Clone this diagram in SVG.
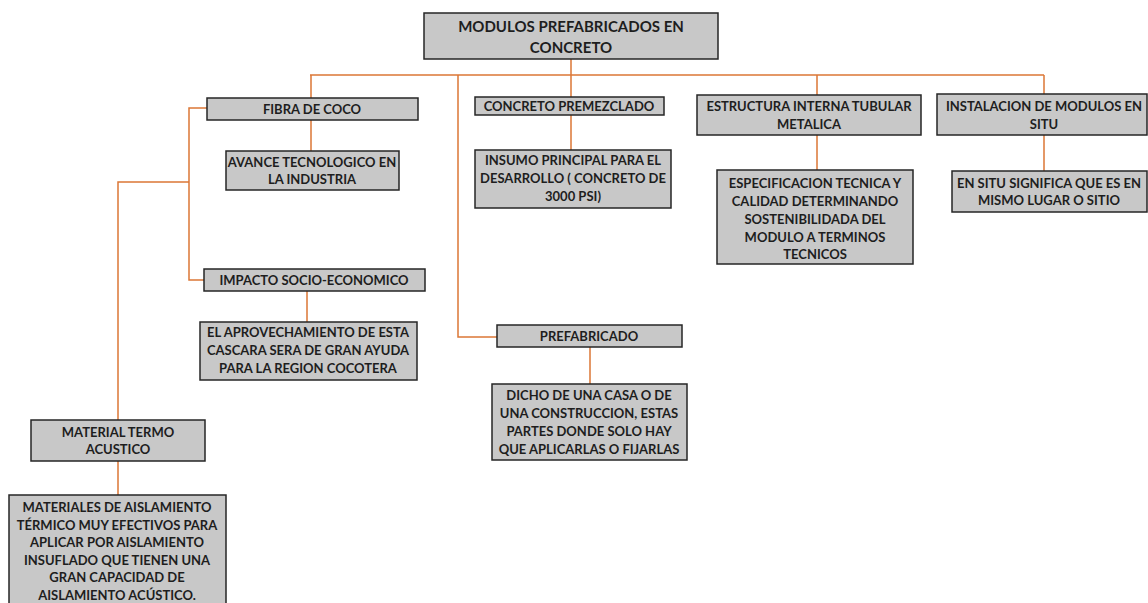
<svg xmlns="http://www.w3.org/2000/svg" width="1148" height="603" viewBox="0 0 1148 603">
<style>
.box{fill:#c8c8c8;stroke:#262626;stroke-width:1.5}
.t{font-family:Lato,"Liberation Sans",sans-serif;font-weight:bold;font-size:13px;fill:#1e1e1e;text-anchor:middle;dominant-baseline:central}
.big{font-size:15px}
.c{fill:none;stroke:#dc7736;stroke-width:1.5}
</style>
<rect width="1148" height="603" fill="#ffffff"/>
<g id="connectors">
<path class="c" d="M571 59V97M310 75H1044M311 75V98M458 75V337H497M817 75V95M1044 75V94"/>
<path class="c" d="M311 120V151M207 108H189V280H204M189 182H118V420M307 291V322M590 347V384M571 115V150M817 135V170M1044 135V171M118 461V495"/>
</g>
<g id="root"><rect class="box" x="424" y="13" width="294" height="46"/><text class="t big" x="571" y="26">MODULOS PREFABRICADOS EN</text><text class="t big" x="571" y="47">CONCRETO</text></g>
<g id="fibra"><rect class="box" x="207" y="98" width="211" height="22"/><text class="t" x="312" y="109">FIBRA DE COCO</text></g>
<g id="avance"><rect class="box" x="226" y="151" width="173" height="39"/><text class="t" x="312" y="162">AVANCE TECNOLOGICO EN</text><text class="t" x="312" y="179">LA INDUSTRIA</text></g>
<g id="premezclado"><rect class="box" x="475" y="97" width="189" height="18"/><text class="t" x="569" y="106">CONCRETO PREMEZCLADO</text></g>
<g id="insumo"><rect class="box" x="475" y="150" width="196" height="58"/><text class="t" x="573" y="160">INSUMO PRINCIPAL PARA EL</text><text class="t" x="573" y="178">DESARROLLO ( CONCRETO DE</text><text class="t" x="573" y="196">3000 PSI)</text></g>
<g id="estructura"><rect class="box" x="697" y="95" width="224" height="40"/><text class="t" x="809" y="106">ESTRUCTURA INTERNA TUBULAR</text><text class="t" x="809" y="124">METALICA</text></g>
<g id="especificacion"><rect class="box" x="717" y="170" width="196" height="94"/><text class="t" x="815" y="183">ESPECIFICACION TECNICA Y</text><text class="t" x="815" y="201">CALIDAD DETERMINANDO</text><text class="t" x="815" y="219">SOSTENIBILIDADA DEL</text><text class="t" x="815" y="237">MODULO A TERMINOS</text><text class="t" x="815" y="254">TECNICOS</text></g>
<g id="instalacion"><rect class="box" x="937" y="94" width="210" height="41"/><text class="t" x="1044" y="106">INSTALACION DE MODULOS EN</text><text class="t" x="1044" y="124">SITU</text></g>
<g id="ensitu"><rect class="box" x="952" y="171" width="195" height="41"/><text class="t" x="1049" y="183">EN SITU SIGNIFICA QUE ES EN</text><text class="t" x="1049" y="200">MISMO LUGAR O SITIO</text></g>
<g id="impacto"><rect class="box" x="204" y="269" width="221" height="22"/><text class="t" x="314" y="280">IMPACTO SOCIO-ECONOMICO</text></g>
<g id="aprovechamiento"><rect class="box" x="200" y="322" width="217" height="58"/><text class="t" x="308" y="332">EL APROVECHAMIENTO DE ESTA</text><text class="t" x="308" y="350">CASCARA SERA DE GRAN AYUDA</text><text class="t" x="308" y="368">PARA LA REGION COCOTERA</text></g>
<g id="prefabricado"><rect class="box" x="497" y="325" width="185" height="22"/><text class="t" x="589" y="336">PREFABRICADO</text></g>
<g id="dicho"><rect class="box" x="492" y="384" width="195" height="76"/><text class="t" x="589" y="395">DICHO DE UNA CASA O DE</text><text class="t" x="589" y="413">UNA CONSTRUCCION, ESTAS</text><text class="t" x="589" y="431">PARTES DONDE SOLO HAY</text><text class="t" x="589" y="449">QUE APLICARLAS O FIJARLAS</text></g>
<g id="termo"><rect class="box" x="31" y="420" width="174" height="41"/><text class="t" x="118" y="432">MATERIAL TERMO</text><text class="t" x="118" y="449">ACUSTICO</text></g>
<g id="materiales"><rect class="box" x="9" y="495" width="217" height="115"/><text class="t" x="117" y="507">MATERIALES DE AISLAMIENTO</text><text class="t" x="117" y="525">TÉRMICO MUY EFECTIVOS PARA</text><text class="t" x="117" y="542">APLICAR POR AISLAMIENTO</text><text class="t" x="117" y="560">INSUFLADO QUE TIENEN UNA</text><text class="t" x="117" y="577">GRAN CAPACIDAD DE</text><text class="t" x="117" y="595">AISLAMIENTO ACÚSTICO.</text></g>
</svg>
